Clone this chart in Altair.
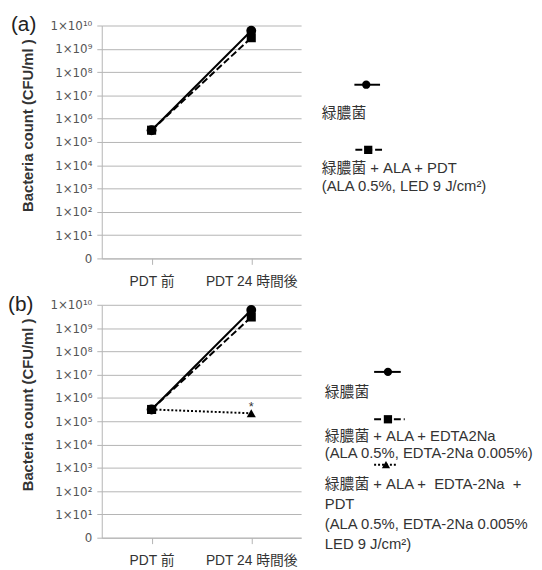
import json
import altair as alt
import pandas as pd

categories = ["PDT 前", "PDT 24 時間後"]

# panel (a)
a_control = [3.2e5, 6.0e9]
a_pdt = [3.2e5, 3.0e9]

# panel (b)
b_control = [3.2e5, 6.0e9]
b_edta = [3.2e5, 3.0e9]
b_edta_pdt = [3.2e5, 2.2e5]
b_mark = ["", "*"]

tick_values = [1, 1e1, 1e2, 1e3, 1e4, 1e5, 1e6, 1e7, 1e8, 1e9, 1e10]
tick_labels = ["0", "1×10¹", "1×10²", "1×10³", "1×10⁴", "1×10⁵", "1×10⁶",
               "1×10⁷", "1×10⁸", "1×10⁹", "1×10¹⁰"]

legend_a = [["緑膿菌"],
            ["緑膿菌 + ALA + PDT", "(ALA 0.5%, LED 9 J/cm²)"]]
legend_b = [["緑膿菌"],
            ["緑膿菌 + ALA + EDTA2Na", "(ALA 0.5%, EDTA-2Na 0.005%)"],
            ["緑膿菌 + ALA +\u00a0 EDTA-2Na\u00a0 +", "PDT",
             "(ALA 0.5%, EDTA-2Na 0.005%", "LED 9 J/cm²)"]]

y_title = "Bacteria count (CFU/ml )"

FONT = "Liberation Sans, Arial, Noto Sans CJK JP, sans-serif"
TICKFONT = "DejaVu Sans, Liberation Sans, sans-serif"
GRID = "#b4b4b4"
W, H = 202, 236

label_expr = json.dumps(tick_labels, ensure_ascii=False) + "[round(log(datum.value)/LN10)]"

xscale = alt.Scale(type="point", padding=0.5, domain=categories)
yscale = alt.Scale(type="log", domain=[1, 1e10], nice=False)

xaxis = alt.Axis(title=None, labelAngle=0, grid=False, domainColor=GRID,
                 tickColor=GRID, tickSize=6, labelPadding=10, labelFontSize=14,
                 labelColor="#333333", labelFont=FONT)
yaxis = alt.Axis(values=tick_values, labelExpr=label_expr, grid=True,
                 gridColor=GRID, domainColor=GRID, tickColor=GRID, tickSize=5,
                 labelPadding=5, labelFontSize=12, labelColor="#555555",
                 labelFont=TICKFONT, title=y_title, titleFont=FONT,
                 titleFontSize=15, titleFontWeight="bold", titleColor="#333333",
                 titleX=-67, titleY=101)


def series(values, shape, dash, size):
    df = pd.DataFrame({"cat": categories, "v": values})
    base = alt.Chart(df).encode(
        x=alt.X("cat:N", scale=xscale, sort=categories, axis=xaxis),
        y=alt.Y("v:Q", scale=yscale, axis=yaxis),
    )
    line_kw = dict(color="black", strokeWidth=2)
    if dash:
        line_kw["strokeDash"] = dash
    line = base.mark_line(**line_kw)
    pts = base.mark_point(shape=shape, filled=True, size=size, color="black",
                          opacity=1)
    return [line, pts]


def legend_item(name_lines, shape, dash, x1, x2, cx, ys, tx, ty, lh):
    d = pd.DataFrame({"s": [name_lines[0]]})
    rule_kw = dict(color="black", strokeWidth=2)
    if dash:
        rule_kw["strokeDash"] = dash
    rule = alt.Chart(d).mark_rule(**rule_kw).encode(
        x=alt.value(x1), x2=alt.value(x2), y=alt.value(ys))
    pt = alt.Chart(d).mark_point(shape=shape, filled=True, size=70,
                                 color="black", opacity=1).encode(
        x=alt.value(cx), y=alt.value(ys))
    txt = alt.Chart(d).mark_text(align="left", baseline="middle", font=FONT,
                                 fontSize=15, color="#333333",
                                 lineHeight=lh).encode(
        x=alt.value(tx), y=alt.value(ty), text=alt.value(name_lines))
    return [rule, pt, txt]


def panel_label(txt, xoff):
    d = pd.DataFrame({"s": [txt]})
    return alt.Chart(d).mark_text(align="left", baseline="middle", font=FONT,
                                  fontSize=21, color="#222222").encode(
        x=alt.value(xoff), y=alt.value(0), text=alt.value(txt))


# ----- panel (a)
layers_a = []
layers_a += series(a_control, "circle", None, 100)
layers_a += series(a_pdt, "square", [7, 3], 85)
layers_a += legend_item(legend_a[0], "circle", None, 256, 282, 268, 60, 223, 89, 19)
layers_a += legend_item(legend_a[1], "square", [7, 3], 257, 284, 270, 126, 223, 144, 19)
layers_a.append(panel_label("(a)", -92))
panel_a = alt.layer(*layers_a).properties(width=W, height=H)

# ----- panel (b)
layers_b = []
layers_b += series(b_control, "circle", None, 100)
layers_b += series(b_edta, "square", [7, 3], 85)
layers_b += series(b_edta_pdt, "triangle-up", [2, 2], 85)
star_df = pd.DataFrame({"cat": categories, "v": b_edta_pdt, "m": b_mark})
star = alt.Chart(star_df).mark_text(fontSize=13, dy=-6, color="#333333",
                                    font=FONT).encode(
    x=alt.X("cat:N", scale=xscale, sort=categories, axis=xaxis),
    y=alt.Y("v:Q", scale=yscale, axis=yaxis),
    text="m:N")
layers_b.append(star)
layers_b += legend_item(legend_b[0], "circle", None, 276, 303, 290, 68, 226, 88, 19)
layers_b += legend_item(legend_b[1], "square", [7, 3], 276, 307, 290, 116, 226, 133, 17)
layers_b += legend_item(legend_b[2], "triangle-up", [2, 2], 276, 299, 288, 162, 226, 182, 20)
layers_b.append(panel_label("(b)", -95))
panel_b = alt.layer(*layers_b).properties(width=W, height=H)

chart = alt.vconcat(panel_a, panel_b, spacing=6).properties(
    padding={"left": 0, "top": 3, "right": 0, "bottom": 0}
).configure_view(stroke=None)

chart.save("out.html", embed_options={"renderer": "svg", "actions": False})
